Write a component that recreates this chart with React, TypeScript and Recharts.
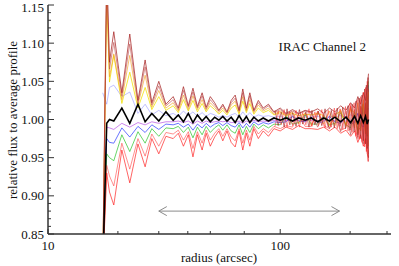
import { LineChart, Line, XAxis, YAxis, ReferenceLine } from 'recharts';

// radii (arcsec) shared by every profile
const radius = [
  17.2, 17.9, 18.4, 19.2, 20.8, 22.5, 24.4, 26.2, 28.0, 30.0,
  32.2, 34.6, 36.4, 38.3, 40.2, 42.1, 44.0, 46.1, 48.0, 50.0,
  52.2, 54.4, 56.6, 59.0, 61.5, 64.0, 66.5, 69.0, 71.5, 74.0,
  77.0, 80.5, 84.5, 89.0, 94.0, 100, 106, 113, 120, 128,
  136, 145, 154, 163, 172, 182, 192, 201, 209, 216,
  222, 228, 233, 237, 240,
];

const brown1 = [
  0.800, 1.200, 1.075, 1.115, 1.035, 1.112, 1.025, 1.078, 1.022, 1.050,
  1.020, 1.030, 1.015, 1.043, 1.018, 1.041, 1.017, 1.035, 1.016, 1.030,
  1.022, 1.012, 1.020, 1.010, 1.025, 1.032, 1.012, 1.040, 1.015, 1.035,
  1.012, 1.025, 1.015, 1.020, 1.010, 1.015, 1.008, 1.013, 1.008, 1.012,
  1.010, 1.014, 1.008, 1.015, 1.010, 1.018, 1.012, 1.022, 1.015, 1.030,
  1.020, 1.035, 1.025, 1.040, 1.060,
];
const brown2 = [
  0.800, 1.185, 1.066, 1.101, 1.031, 1.099, 1.022, 1.069, 1.019, 1.044,
  1.018, 1.026, 1.013, 1.038, 1.016, 1.036, 1.015, 1.031, 1.014, 1.026,
  1.019, 1.011, 1.018, 1.009, 1.022, 1.028, 1.011, 1.035, 1.013, 1.031,
  1.011, 1.022, 1.013, 1.018, 1.009, 1.013, 1.007, 1.011, 1.007, 1.011,
  1.009, 0.990, 1.007, 0.988, 1.009, 0.984, 1.011, 0.980, 1.013, 0.975,
  1.018, 0.968, 1.022, 0.960, 0.945,
];
const orange = [
  0.800, 1.170, 1.056, 1.086, 1.026, 1.084, 1.019, 1.058, 1.016, 1.038,
  1.015, 1.022, 1.011, 1.032, 1.013, 1.031, 1.013, 1.026, 1.012, 1.022,
  1.016, 1.009, 1.015, 1.008, 1.019, 1.024, 1.009, 1.030, 1.011, 1.026,
  1.009, 1.019, 1.011, 1.015, 1.007, 1.011, 1.006, 1.010, 0.994, 1.009,
  0.992, 1.010, 0.994, 1.011, 0.992, 1.013, 0.991, 1.016, 0.989, 1.022,
  0.985, 1.026, 0.981, 1.030, 0.965,
];
const yellow = [
  0.800, 1.160, 1.049, 1.084, 1.021, 1.062, 1.015, 1.042, 1.013, 1.030,
  1.012, 1.018, 1.009, 1.026, 1.011, 1.025, 1.010, 1.021, 1.010, 1.018,
  1.013, 1.007, 1.012, 1.006, 1.015, 1.019, 1.007, 1.024, 1.009, 1.021,
  1.007, 1.015, 1.009, 1.012, 1.006, 1.009, 1.005, 1.008, 1.005, 1.007,
  1.006, 1.008, 1.005, 0.992, 1.006, 1.011, 0.993, 1.013, 1.009, 0.982,
  1.012, 1.021, 0.985, 1.024, 1.036,
];
const lightBlue = [
  1.035, 1.020, 1.042, 1.045, 1.030, 1.036, 1.008, 1.020, 1.006, 1.012,
  1.005, 1.008, 1.004, 1.011, 1.005, 1.010, 1.004, 1.009, 1.004, 1.008,
  1.006, 1.003, 1.005, 1.003, 1.006, 1.008, 1.003, 1.010, 1.004, 1.009,
  1.003, 1.006, 1.004, 1.005, 1.003, 1.004, 1.002, 1.003, 1.002, 1.003,
  1.003, 1.004, 1.002, 1.004, 1.003, 1.005, 1.003, 1.006, 1.004, 1.008,
  1.005, 1.009, 1.006, 1.010, 1.015,
];
const violet = [
  0.800, 0.990, 0.989, 0.987, 0.995, 0.990, 0.996, 0.993, 0.997, 0.995,
  0.997, 0.997, 0.998, 0.996, 0.998, 0.994, 0.998, 0.995, 0.998, 0.996,
  0.997, 0.998, 0.997, 0.998, 0.996, 0.996, 0.998, 0.995, 0.998, 0.996,
  0.999, 0.997, 0.998, 0.997, 0.999, 0.998, 0.999, 0.998, 0.999, 0.999,
  0.999, 0.998, 0.999, 0.998, 0.999, 0.998, 0.998, 0.997, 0.998, 0.996,
  0.998, 0.996, 0.997, 0.995, 0.994,
];
const blue = [
  0.800, 0.975, 0.970, 0.969, 0.989, 0.977, 0.991, 0.983, 0.993, 0.987,
  0.994, 0.993, 0.995, 0.990, 0.994, 0.986, 0.994, 0.989, 0.995, 0.990,
  0.994, 0.996, 0.992, 0.996, 0.992, 0.990, 0.996, 0.989, 0.995, 0.990,
  0.997, 0.993, 0.996, 0.994, 0.997, 0.996, 0.997, 1.004, 0.998, 0.997,
  1.003, 0.996, 0.997, 1.004, 0.997, 0.995, 1.004, 0.994, 0.996, 1.008,
  0.994, 0.990, 1.007, 0.987, 1.045,
];
const green = [
  0.800, 0.955, 0.950, 0.946, 0.980, 0.958, 0.984, 0.969, 0.988, 0.978,
  0.989, 0.988, 0.991, 0.983, 0.990, 0.976, 0.990, 0.980, 0.991, 0.983,
  0.989, 0.993, 0.986, 0.993, 0.985, 0.982, 0.993, 0.980, 0.991, 0.983,
  0.994, 0.988, 0.993, 0.989, 0.994, 0.993, 1.005, 0.994, 0.996, 1.006,
  0.994, 0.994, 1.005, 0.993, 0.995, 1.009, 0.993, 0.989, 1.010, 0.985,
  0.990, 1.020, 0.988, 0.978, 1.050,
];
const red1 = [
  0.800, 0.940, 0.926, 0.913, 0.969, 0.935, 0.975, 0.952, 0.981, 0.965,
  0.983, 0.981, 0.986, 0.973, 0.984, 0.962, 0.984, 0.969, 0.986, 0.973,
  0.982, 0.988, 0.978, 0.988, 0.977, 0.972, 0.988, 0.969, 0.986, 0.973,
  0.991, 0.981, 0.988, 0.983, 0.991, 0.988, 0.992, 0.990, 1.007, 0.991,
  0.991, 1.011, 0.992, 0.988, 1.009, 0.986, 0.989, 1.018, 0.988, 0.977,
  1.016, 0.973, 1.020, 0.965, 0.955,
];
const red2 = [
  0.800, 0.930, 0.905, 0.888, 0.960, 0.917, 0.968, 0.938, 0.975, 0.955,
  0.978, 0.975, 0.982, 0.965, 0.980, 0.951, 0.980, 0.960, 0.982, 0.965,
  0.977, 0.985, 0.972, 0.985, 0.970, 0.964, 0.985, 0.960, 0.982, 0.965,
  0.988, 0.975, 0.985, 0.978, 0.988, 0.985, 0.990, 0.987, 0.992, 0.988,
  0.988, 0.987, 0.990, 0.985, 0.990, 0.982, 0.986, 0.978, 0.985, 0.970,
  0.980, 0.965, 0.975, 0.955, 0.950,
];
// average of all profiles (black)
const mean = [
  0.800, 0.995, 1.000, 0.998, 1.015, 0.995, 1.020, 0.997, 1.008, 0.998,
  1.010, 0.999, 1.006, 0.997, 1.008, 0.996, 1.006, 0.998, 1.004, 0.997,
  1.003, 0.999, 1.004, 0.998, 1.003, 0.996, 1.005, 0.997, 1.004, 0.996,
  1.003, 0.998, 1.002, 0.998, 1.002, 0.999, 1.002, 0.998, 1.002, 0.999,
  1.002, 0.997, 1.002, 0.998, 1.003, 0.997, 1.003, 0.996, 1.004, 0.995,
  1.005, 0.996, 1.004, 0.994, 1.000,
];

// finer sampling of the noisy outer part
const outerRadius = [
  95, 98, 101, 104, 107, 110, 113, 117, 121, 125,
  129, 133, 137, 141, 146, 151, 156, 161, 166, 171,
  176, 181, 186, 191, 196, 200, 204, 208, 212, 216,
  219, 222, 225, 228, 231, 233, 235, 237, 239, 240,
];
const outerBrown = [
  1.012, 0.992, 1.010, 0.990, 1.014, 0.993, 1.009, 0.991, 1.013, 0.994,
  1.010, 0.990, 1.012, 0.993, 1.011, 0.992, 1.014, 0.990, 1.012, 0.989,
  1.015, 0.991, 1.016, 0.988, 1.018, 0.986, 1.020, 0.984, 1.024, 0.980,
  1.028, 0.975, 1.032, 0.972, 1.040, 0.968, 1.045, 0.962, 1.055, 0.950,
];
const outerRed = [
  0.991, 1.011, 0.993, 1.013, 0.990, 1.010, 0.992, 1.012, 0.990, 1.009,
  0.993, 1.014, 0.991, 1.010, 0.992, 1.013, 0.989, 1.012, 0.990, 1.015,
  0.988, 1.014, 0.987, 1.017, 0.985, 1.021, 0.983, 1.022, 0.978, 1.026,
  0.974, 1.030, 0.970, 1.036, 0.964, 1.042, 0.958, 1.050, 0.945, 1.040,
];

const xTicks = [10, 20, 30, 40, 50, 60, 70, 80, 90, 100, 200, 300];
const xLabels = [10, 100];
const yTicks = [
  0.85, 0.86, 0.87, 0.88, 0.89, 0.90, 0.91, 0.92, 0.93, 0.94,
  0.95, 0.96, 0.97, 0.98, 0.99, 1.00, 1.01, 1.02, 1.03, 1.04,
  1.05, 1.06, 1.07, 1.08, 1.09, 1.10, 1.11, 1.12, 1.13, 1.14, 1.15,
];
const yLabels = ['0.85', '0.90', '0.95', '1.00', '1.05', '1.10', '1.15'];

// annotation arrow (fit range)
const arrowFrom = 30;
const arrowTo = 180;
const arrowLevel = 0.88;

const series = [
  { key: 'lightBlue', values: lightBlue, color: '#8c8cff', opacity: 0.6 },
  { key: 'violet', values: violet, color: '#b040e0', opacity: 0.7 },
  { key: 'blue', values: blue, color: '#2030ff', opacity: 0.75 },
  { key: 'green', values: green, color: '#20c020', opacity: 0.75 },
  { key: 'yellow', values: yellow, color: '#f0e000', opacity: 0.85 },
  { key: 'orange', values: orange, color: '#f0a020', opacity: 0.7 },
  { key: 'red1', values: red1, color: '#ff3030', opacity: 0.6 },
  { key: 'red2', values: red2, color: '#ff1a1a', opacity: 0.75 },
  { key: 'brown2', values: brown2, color: '#c05050', opacity: 0.7 },
  { key: 'brown1', values: brown1, color: '#a82828', opacity: 0.85 },
];

const data = radius.map((r, i) => {
  const row: Record<string, number> = { r, mean: mean[i] };
  series.forEach((s) => {
    row[s.key] = s.values[i];
  });
  return row;
});

const outerData = outerRadius.map((r, i) => ({ r, brown: outerBrown[i], red: outerRed[i] }));

const font = { fontFamily: '"Liberation Serif", serif', fontSize: 13, fill: '#111' };
const axisColor = '#333';

function BottomTick({ x, y, payload }: any) {
  const major = xLabels.includes(payload.value);
  return (
    <g>
      <line x1={x} x2={x} y1={y} y2={y - (major ? 5 : 3)} stroke={axisColor} />
      {major && (
        <text x={x} y={y + 16} textAnchor="middle" {...font}>
          {payload.value}
        </text>
      )}
    </g>
  );
}

function TopTick({ x, y, payload }: any) {
  const major = xLabels.includes(payload.value);
  return <line x1={x} x2={x} y1={y} y2={y + (major ? 5 : 3)} stroke={axisColor} />;
}

function LeftTick({ x, y, payload }: any) {
  const label = payload.value.toFixed(2);
  const major = yLabels.includes(label);
  // keep the top label inside the picture
  const shift = label === '1.15' ? 2 : 0;
  return (
    <g>
      <line x1={x} x2={x + (major ? 6 : 3)} y1={y} y2={y} stroke={axisColor} />
      {major && (
        <text x={x - 4} y={y + shift} dy="0.35em" textAnchor="end" {...font}>
          {label}
        </text>
      )}
    </g>
  );
}

function RightTick({ x, y, payload }: any) {
  const major = yLabels.includes(payload.value.toFixed(2));
  return <line x1={x} x2={x - (major ? 6 : 3)} y1={y} y2={y} stroke={axisColor} />;
}

function Arrow({ x1, y1, x2, y2 }: any) {
  return (
    <g stroke="#8a8a8a" strokeWidth={1} fill="none">
      <line x1={x1} y1={y1} x2={x2} y2={y2} />
      <polyline points={`${x1 + 8},${y1 - 4.5} ${x1},${y1} ${x1 + 8},${y1 + 4.5}`} />
      <polyline points={`${x2 - 8},${y2 - 4.5} ${x2},${y2} ${x2 - 8},${y2 + 4.5}`} />
    </g>
  );
}

export default function App() {
  return (
    <div style={{ position: 'absolute', left: 0, top: 0, width: 399, height: 266, background: '#fff' }}>
      <LineChart width={399} height={266} data={data} margin={{ top: 5, right: 8, bottom: 0, left: 0 }}>
        <XAxis
          dataKey="r"
          type="number"
          scale="log"
          domain={[10, 300]}
          allowDataOverflow
          ticks={xTicks}
          tick={<BottomTick />}
          tickLine={false}
          tickSize={0}
          tickMargin={0}
          height={32}
          axisLine={{ stroke: axisColor, strokeWidth: 1.5 }}
        />
        <XAxis
          xAxisId="top"
          orientation="top"
          dataKey="r"
          type="number"
          scale="log"
          domain={[10, 300]}
          allowDataOverflow
          ticks={xTicks}
          tick={<TopTick />}
          tickLine={false}
          tickSize={0}
          tickMargin={0}
          height={0}
          axisLine={{ stroke: axisColor, strokeWidth: 1.2 }}
        />
        <YAxis
          type="number"
          domain={[0.85, 1.15]}
          allowDataOverflow
          ticks={yTicks}
          tick={<LeftTick />}
          tickLine={false}
          tickSize={0}
          tickMargin={0}
          width={48}
          interval={0}
          axisLine={{ stroke: axisColor, strokeWidth: 1.5 }}
        />
        <YAxis
          yAxisId="right"
          orientation="right"
          type="number"
          domain={[0.85, 1.15]}
          allowDataOverflow
          ticks={yTicks}
          tick={<RightTick />}
          tickLine={false}
          tickSize={0}
          tickMargin={0}
          width={0}
          interval={0}
          axisLine={{ stroke: axisColor, strokeWidth: 1.2 }}
        />
        {series.map((s) => (
          <Line
            key={s.key}
            dataKey={s.key}
            type="linear"
            stroke={s.color}
            strokeOpacity={s.opacity}
            strokeWidth={0.9}
            dot={false}
            isAnimationActive={false}
          />
        ))}
        <Line
          data={outerData}
          dataKey="red"
          type="linear"
          stroke="#ff2020"
          strokeOpacity={0.6}
          strokeWidth={0.8}
          dot={false}
          isAnimationActive={false}
        />
        <Line
          data={outerData}
          dataKey="brown"
          type="linear"
          stroke="#a82828"
          strokeOpacity={0.8}
          strokeWidth={0.8}
          dot={false}
          isAnimationActive={false}
        />
        <Line dataKey="mean" type="linear" stroke="#000" strokeWidth={1.6} dot={false} isAnimationActive={false} />
        <ReferenceLine
          segment={[
            { x: arrowFrom, y: arrowLevel },
            { x: arrowTo, y: arrowLevel },
          ]}
          shape={<Arrow />}
        />
      </LineChart>
      <svg width={399} height={266} style={{ position: 'absolute', left: 0, top: 0, pointerEvents: 'none' }}>
        <text x={366} y={51} textAnchor="end" {...font}>
          IRAC Channel 2
        </text>
        <text x={219} y={262} textAnchor="middle" {...font}>
          radius (arcsec)
        </text>
        <text transform="translate(17,120) rotate(-90)" textAnchor="middle" {...font}>
          relative flux to average profile
        </text>
      </svg>
    </div>
  );
}
